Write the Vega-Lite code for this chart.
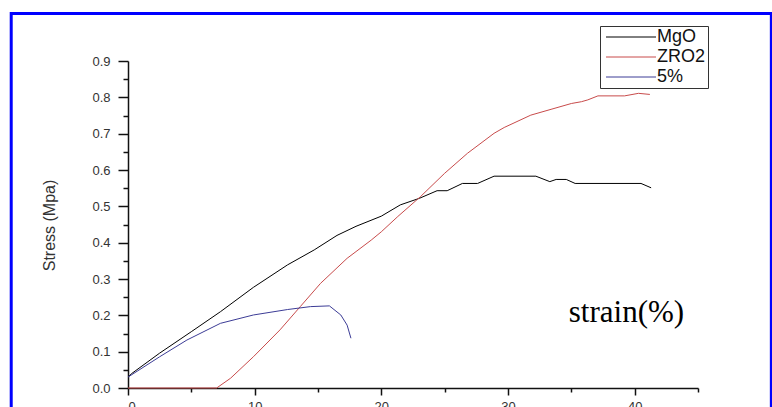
{
  "$schema": "https://vega.github.io/schema/vega-lite/v6.json",
  "autosize": "none",
  "width": 570,
  "height": 327,
  "padding": {"left": 128, "top": 61, "right": 74, "bottom": 19},
  "background": "white",
  "config": {
    "view": {"stroke": null},
    "font": "Liberation Sans",
    "axis": {"grid": false, "domainColor": "#111", "tickColor": "#111", "domainWidth": 1.5, "tickWidth": 1.5, "labelColor": "#333", "labelFont": "Liberation Sans", "labelFontSize": 13}
  },
  "datasets": {
    "curves": [
      {"series": "MgO", "strain": 0, "stress": 0.03},
      {"series": "MgO", "strain": 0.3, "stress": 0.04},
      {"series": "MgO", "strain": 2.5, "stress": 0.096},
      {"series": "MgO", "strain": 5.0, "stress": 0.155},
      {"series": "MgO", "strain": 7.3, "stress": 0.21},
      {"series": "MgO", "strain": 9.9, "stress": 0.277},
      {"series": "MgO", "strain": 12.6, "stress": 0.339},
      {"series": "MgO", "strain": 14.7, "stress": 0.38},
      {"series": "MgO", "strain": 16.5, "stress": 0.42},
      {"series": "MgO", "strain": 18.0, "stress": 0.445},
      {"series": "MgO", "strain": 20.0, "stress": 0.473},
      {"series": "MgO", "strain": 21.5, "stress": 0.504},
      {"series": "MgO", "strain": 23.0, "stress": 0.522},
      {"series": "MgO", "strain": 24.4, "stress": 0.543},
      {"series": "MgO", "strain": 25.2, "stress": 0.543},
      {"series": "MgO", "strain": 26.4, "stress": 0.563},
      {"series": "MgO", "strain": 27.6, "stress": 0.563},
      {"series": "MgO", "strain": 28.9, "stress": 0.583},
      {"series": "MgO", "strain": 32.2, "stress": 0.583},
      {"series": "MgO", "strain": 33.3, "stress": 0.568},
      {"series": "MgO", "strain": 33.8, "stress": 0.574},
      {"series": "MgO", "strain": 34.6, "stress": 0.574},
      {"series": "MgO", "strain": 35.3, "stress": 0.563},
      {"series": "MgO", "strain": 40.5, "stress": 0.563},
      {"series": "MgO", "strain": 41.3, "stress": 0.551},
      {"series": "ZRO2", "strain": 0, "stress": 0},
      {"series": "ZRO2", "strain": 7.0, "stress": 0},
      {"series": "ZRO2", "strain": 8.1, "stress": 0.027},
      {"series": "ZRO2", "strain": 9.9, "stress": 0.086},
      {"series": "ZRO2", "strain": 12.0, "stress": 0.16},
      {"series": "ZRO2", "strain": 13.6, "stress": 0.224},
      {"series": "ZRO2", "strain": 15.2, "stress": 0.288},
      {"series": "ZRO2", "strain": 17.3, "stress": 0.357},
      {"series": "ZRO2", "strain": 19.2, "stress": 0.407},
      {"series": "ZRO2", "strain": 20.0, "stress": 0.43},
      {"series": "ZRO2", "strain": 21.3, "stress": 0.472},
      {"series": "ZRO2", "strain": 23.1, "stress": 0.527},
      {"series": "ZRO2", "strain": 25.0, "stress": 0.591},
      {"series": "ZRO2", "strain": 26.8, "stress": 0.646},
      {"series": "ZRO2", "strain": 28.9, "stress": 0.701},
      {"series": "ZRO2", "strain": 29.7, "stress": 0.717},
      {"series": "ZRO2", "strain": 31.8, "stress": 0.751},
      {"series": "ZRO2", "strain": 33.4, "stress": 0.767},
      {"series": "ZRO2", "strain": 35.0, "stress": 0.783},
      {"series": "ZRO2", "strain": 35.8, "stress": 0.788},
      {"series": "ZRO2", "strain": 36.3, "stress": 0.793},
      {"series": "ZRO2", "strain": 37.1, "stress": 0.804},
      {"series": "ZRO2", "strain": 39.2, "stress": 0.804},
      {"series": "ZRO2", "strain": 40.3, "stress": 0.811},
      {"series": "ZRO2", "strain": 41.2, "stress": 0.808},
      {"series": "5%", "strain": 0, "stress": 0.03},
      {"series": "5%", "strain": 2.5, "stress": 0.086},
      {"series": "5%", "strain": 4.65, "stress": 0.132},
      {"series": "5%", "strain": 7.3, "stress": 0.178},
      {"series": "5%", "strain": 9.9, "stress": 0.201},
      {"series": "5%", "strain": 12.6, "stress": 0.216},
      {"series": "5%", "strain": 14.4, "stress": 0.224},
      {"series": "5%", "strain": 15.9, "stress": 0.226},
      {"series": "5%", "strain": 16.8, "stress": 0.201},
      {"series": "5%", "strain": 17.3, "stress": 0.173},
      {"series": "5%", "strain": 17.6, "stress": 0.137}
    ],
    "notes": [
      {"label": "strain(%)"}
    ]
  },
  "layer": [
    {
      "data": {"name": "notes"},
      "mark": {"type": "rect", "fill": null, "stroke": "#0000ff", "strokeWidth": 3, "clip": false},
      "encoding": {
        "x": {"datum": -9.22, "type": "quantitative", "scale": {"domain": [0, 45], "nice": false}, "axis": null},
        "x2": {"datum": 50.79},
        "y": {"datum": 1.031, "type": "quantitative", "scale": {"domain": [0, 0.9], "nice": false}, "axis": null},
        "y2": {"datum": -0.2}
      }
    },
    {
      "data": {"name": "curves"},
      "mark": {"type": "line", "strokeWidth": 1, "clip": false},
      "encoding": {
        "x": {"field": "strain", "type": "quantitative", "scale": {"domain": [0, 45], "nice": false},
              "axis": {"orient": "bottom", "title": null, "values": [0, 10, 20, 30, 40], "tickSize": 7, "labelPadding": 5}},
        "y": {"field": "stress", "type": "quantitative", "scale": {"domain": [0, 0.9], "nice": false},
              "axis": {"orient": "left", "title": "Stress (Mpa)", "values": [0, 0.1, 0.2, 0.3, 0.4, 0.5, 0.6, 0.7, 0.8, 0.9], "format": ".1f", "tickSize": 10, "labelPadding": 8,
                       "titleFont": "Liberation Sans", "titleFontSize": 16, "titleFontWeight": "normal", "titleColor": "#333", "titleX": -71, "titleY": 164}},
        "color": {"field": "series", "type": "nominal",
                  "scale": {"domain": ["MgO", "ZRO2", "5%"], "range": ["#000000", "#c84b4b", "#3c3c96"]},
                  "legend": {"title": null, "orient": "none", "legendX": 472, "legendY": -35,
                             "symbolType": "M-5,0H5", "symbolSize": 100, "symbolStrokeWidth": 1, "symbolOffset": 20,
                             "labelFont": "Liberation Sans", "labelFontSize": 18, "labelColor": "#111", "labelOffset": 17, "rowPadding": 2,
                             "padding": 2, "strokeColor": "#333", "fillColor": "white"}}
      }
    },
    {
      "data": {"name": "notes"},
      "mark": {"type": "text", "font": "Liberation Serif", "fontSize": 31, "align": "center", "baseline": "alphabetic", "color": "#000"},
      "encoding": {
        "x": {"datum": 39.35, "type": "quantitative", "scale": {"domain": [0, 45], "nice": false},
              "axis": {"orient": "bottom", "title": null, "values": [5, 15, 25, 35, 45], "labels": false, "domain": false, "tickSize": 4}},
        "y": {"datum": 0.182, "type": "quantitative", "scale": {"domain": [0, 0.9], "nice": false},
              "axis": {"orient": "left", "title": null, "values": [0.05, 0.15, 0.25, 0.35, 0.45, 0.55, 0.65, 0.75, 0.85], "labels": false, "domain": false, "tickSize": 5}},
        "text": {"field": "label", "type": "nominal"}
      }
    }
  ],
  "resolve": {"axis": {"x": "independent", "y": "independent"}}
}
